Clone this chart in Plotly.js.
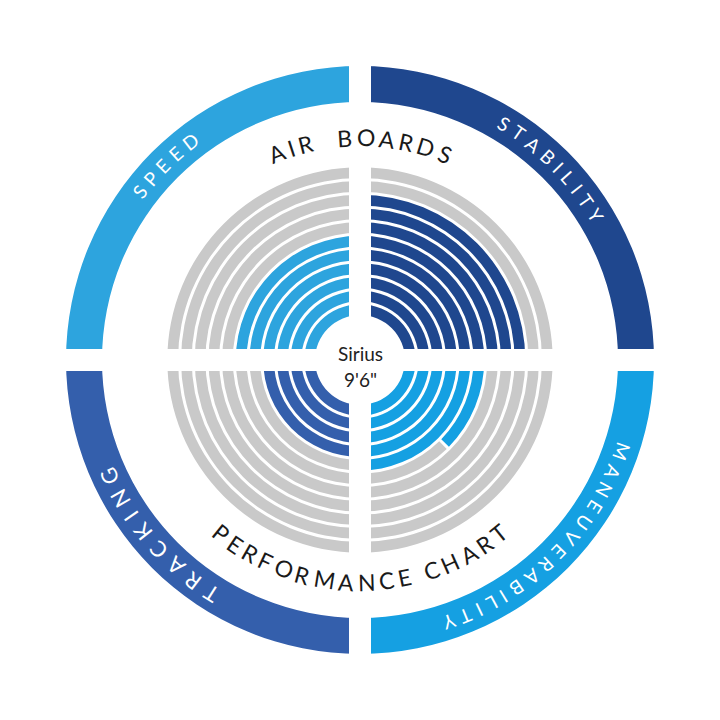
<!DOCTYPE html>
<html><head><meta charset="utf-8">
<script src="https://cdn.plot.ly/plotly-3.0.1.min.js"></script>
<style>html,body{margin:0;padding:0;background:#fff}</style>
</head><body><div id="chart" style="width:720px;height:720px"></div>
<script>
// ---- data ----
const categories = ['SPEED', 'STABILITY', 'MANEUVERABILITY', 'TRACKING'];
const scores = [6, 9, 5.5, 4];
const maxScore = 11;
const catColors = ['#2DA4DE', '#1F478E', '#15A0E2', '#345FAC'];
const trackColor = '#C9C9C9';
const centerLabel = ['Sirius', '9\'6"'];
const topTitle = 'AIR  BOARDS';
const bottomTitle = 'PERFORMANCE CHART';

// ---- layout constants ----
const quadCenter = [135, 45, 315, 225]; // degrees (counterclockwise from east)
const labelCenter = [135, 45, 315, 221];
const labelSpacing = [6.5, 6.5, 6.5, 9];
const labelSize = [19, 19, 19, 22];
const R0 = 45, PITCH = 13.7, BAND = 10.7;
const OUT_BASE = 258, OUT_W = 36;
const HALF_GAP = 11;
const PLOT = 600;
const FONT = 'Lato, "Open Sans", sans-serif';

const traces = [];
categories.forEach((cat, ci) => {
  const th = [], base = [], rr = [], wd = [], col = [];
  const qEnd = quadCenter[ci] + 45, qStart = quadCenter[ci] - 45;
  for (let i = 0; i < maxScore; i++) {
    const b = R0 + i * PITCH;
    const fill = Math.max(0, Math.min(1, scores[ci] - i));
    if (fill >= 1 || fill <= 0) {
      th.push(quadCenter[ci]); base.push(b); rr.push(BAND); wd.push(90);
      col.push(fill >= 1 ? catColors[ci] : trackColor);
    } else {
      const gapDeg = (3 / (b + BAND / 2)) * 180 / Math.PI;
      const split = qEnd - fill * 90;
      th.push((split + qEnd) / 2 + gapDeg / 4); base.push(b); rr.push(BAND); wd.push(qEnd - split - gapDeg / 2); col.push(catColors[ci]);
      th.push((qStart + split) / 2 - gapDeg / 4); base.push(b); rr.push(BAND); wd.push(split - qStart - gapDeg / 2); col.push(trackColor);
    }
  }
  traces.push({type: 'barpolar', name: cat, theta: th, base: base, r: rr, width: wd,
    marker: {color: col, line: {width: 0}}, hoverinfo: 'skip', showlegend: false});
});
traces.push({type: 'barpolar', name: 'outer', theta: quadCenter, base: quadCenter.map(() => OUT_BASE),
  r: quadCenter.map(() => OUT_W), width: quadCenter.map(() => 90),
  marker: {color: catColors, line: {width: 0}}, hoverinfo: 'skip', showlegend: false});

// ---- curved text ----
const ctx = document.createElement('canvas').getContext('2d');
function arcText(str, o) {
  ctx.font = `${o.weight || 400} ${o.size}px Lato`;
  const chars = [...str];
  const w = chars.map(c => ctx.measureText(c).width);
  const total = w.reduce((a, b) => a + b, 0) + o.spacing * (chars.length - 1);
  let s = -total / 2;
  const out = [];
  chars.forEach((c, i) => {
    const mid = s + w[i] / 2;
    s += w[i] + o.spacing;
    if (c === ' ') return;
    const th = o.center + o.dir * (mid / o.r) * 180 / Math.PI;
    const rad = th * Math.PI / 180;
    let rot = o.dir < 0 ? 90 - th : 270 - th;
    rot = ((rot % 360) + 540) % 360 - 180;
    out.push({xref: 'paper', yref: 'paper', x: 0.5 + o.r * Math.cos(rad) / PLOT, y: 0.5 + o.r * Math.sin(rad) / PLOT,
      xanchor: 'center', yanchor: 'middle', text: c, showarrow: false, textangle: rot,
      font: {family: FONT, size: o.size, color: o.color, weight: o.weight || 400}});
  });
  return out;
}

let annotations = [];
annotations = annotations.concat(arcText(topTitle, {r: 223, center: 90, dir: -1, size: 23, spacing: 4.5, color: '#1a1a1a'}));
annotations = annotations.concat(arcText(bottomTitle, {r: 222, center: 270, dir: 1, size: 23, spacing: 3.8, color: '#1a1a1a'}));
categories.forEach((cat, ci) => {
  annotations = annotations.concat(arcText(cat, {r: 277, center: labelCenter[ci], dir: -1, size: labelSize[ci], spacing: labelSpacing[ci], color: '#ffffff'}));
});
const centerOffsets = [7, -19];
centerLabel.forEach((t, i) => annotations.push({xref: 'paper', yref: 'paper', x: 0.5, y: 0.5 + centerOffsets[i] / PLOT,
  xanchor: 'center', yanchor: 'middle', text: t, showarrow: false, font: {family: FONT, size: 19, color: '#222'}}));

const shapes = [
  {type: 'rect', xref: 'paper', yref: 'paper', x0: 0.5 - HALF_GAP / PLOT, x1: 0.5 + HALF_GAP / PLOT, y0: 0, y1: 1,
    fillcolor: '#ffffff', line: {width: 0}, layer: 'above'},
  {type: 'rect', xref: 'paper', yref: 'paper', y0: 0.5 - HALF_GAP / PLOT, y1: 0.5 + HALF_GAP / PLOT, x0: 0, x1: 1,
    fillcolor: '#ffffff', line: {width: 0}, layer: 'above'}
];

const layout = {
  width: 720, height: 720, margin: {l: 60, r: 60, t: 60, b: 60},
  paper_bgcolor: '#ffffff', showlegend: false,
  polar: {
    domain: {x: [0, 1], y: [0, 1]}, bgcolor: '#ffffff',
    radialaxis: {visible: false, range: [0, 300], autorange: false},
    angularaxis: {visible: false, rotation: 0, direction: 'counterclockwise'},
    barmode: 'overlay'
  },
  annotations: annotations, shapes: shapes
};
Plotly.newPlot('chart', traces, layout, {displayModeBar: false, staticPlot: true});
</script></body></html>
